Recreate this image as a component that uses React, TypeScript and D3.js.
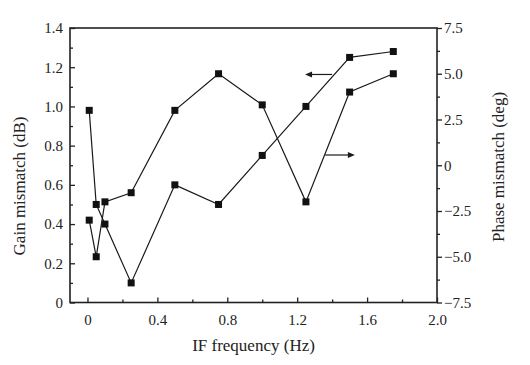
import React, { useEffect, useRef } from 'react';
import * as d3 from 'd3';

// values
const freq = [0.01, 0.05, 0.1, 0.25, 0.5, 0.75, 1.0, 1.25, 1.5, 1.75];
const gainMismatch = [0.98, 0.5, 0.4, 0.1, 0.6, 0.5, 0.75, 1.0, 1.25, 1.28];
const phaseMismatch = [-3.0, -5.0, -2.0, -1.5, 3.0, 5.0, 3.3, -2.0, 4.0, 5.0];

const xTicks = [0, 0.4, 0.8, 1.2, 1.6, 2.0];
const xMinor = [0.2, 0.6, 1.0, 1.4, 1.8];
const gainTicks = [0, 0.2, 0.4, 0.6, 0.8, 1.0, 1.2, 1.4];
const gainMinor = [0.1, 0.3, 0.5, 0.7, 0.9, 1.1, 1.3];
const phaseTicks = [-7.5, -5.0, -2.5, 0, 2.5, 5.0, 7.5];
const phaseMinor = [-6.25, -3.75, -1.25, 1.25, 3.75, 6.25];

// arrows pointing to each series' axis: [x0, x1, y] in data units
const gainArrow = [1.4, 1.245, 1.163];
const phaseArrow = [1.36, 1.53, 0.56];

const FONT = "'Liberation Serif', 'Times New Roman', serif";
const W = 530;
const H = 365;

const App: React.FC = () => {
  const svgRef = useRef<SVGSVGElement>(null);

  useEffect(() => {
    if (!svgRef.current) return;
    const margin = { top: 28, right: 93, bottom: 62.5, left: 70 };
    const innerW = W - margin.left - margin.right;
    const innerH = H - margin.top - margin.bottom;

    const svg = d3.select(svgRef.current);
    svg.selectAll('*').remove();
    const g = svg.append('g').attr('transform', `translate(${margin.left},${margin.top})`);

    const x = d3.scaleLinear().domain([-0.1, 2.0]).range([0, innerW]);
    const yGain = d3.scaleLinear().domain([0, 1.4]).range([innerH, 0]);
    const yPhase = d3.scaleLinear().domain([-7.5, 7.5]).range([innerH, 0]);

    const fmt = (d: number) => (d === 0 ? '0' : d3.format('.1f')(d).replace('-', '\u2212'));

    // x axis, ticks inward
    const xAx = g.append('g').attr('transform', `translate(0,${innerH})`);
    xAx.call(d3.axisBottom(x).tickValues(xTicks).tickSize(-5).tickSizeOuter(0).tickPadding(12).tickFormat((d) => fmt(+d)));
    xAx.append('g').call(d3.axisBottom(x).tickValues(xMinor).tickSize(-3).tickSizeOuter(0).tickFormat(() => ''));

    // left axis, ticks inward
    const yl = g.append('g');
    yl.call(d3.axisLeft(yGain).tickValues(gainTicks).tickSize(-5).tickSizeOuter(0).tickPadding(7).tickFormat((d) => fmt(+d)));
    yl.append('g').call(d3.axisLeft(yGain).tickValues(gainMinor).tickSize(-3).tickSizeOuter(0).tickFormat(() => ''));

    // right axis, ticks outward
    const yr = g.append('g').attr('transform', `translate(${innerW},0)`);
    yr.call(d3.axisRight(yPhase).tickValues(phaseTicks).tickSize(5).tickSizeOuter(0).tickPadding(2).tickFormat((d) => fmt(+d)));
    yr.append('g').call(d3.axisRight(yPhase).tickValues(phaseMinor).tickSize(3).tickSizeOuter(0).tickFormat(() => ''));

    g.selectAll('.domain').remove();
    g.selectAll('.tick line').attr('stroke', '#222').attr('stroke-width', 1.3);
    g.selectAll('.tick text')
      .attr('fill', '#222')
      .style('font-family', FONT)
      .style('font-size', '15px');

    // frame
    g.append('rect')
      .attr('width', innerW)
      .attr('height', innerH)
      .attr('fill', 'none')
      .attr('stroke', '#222')
      .attr('stroke-width', 1.6);

    const drawSeries = (vals: number[], y: d3.ScaleLinear<number, number>) => {
      const line = d3
        .line<number>()
        .x((_, i) => x(freq[i]))
        .y((d) => y(d));
      g.append('path').attr('d', line(vals)).attr('fill', 'none').attr('stroke', '#1a1a1a').attr('stroke-width', 1.2);
      g.selectAll(null)
        .data(vals)
        .enter()
        .append('rect')
        .attr('x', (_, i) => x(freq[i]) - 3.5)
        .attr('y', (d) => y(d) - 3.5)
        .attr('width', 7)
        .attr('height', 7)
        .attr('fill', '#111');
    };
    drawSeries(gainMismatch, yGain);
    drawSeries(phaseMismatch, yPhase);

    // arrows
    const drawArrow = (x0: number, x1: number, yy: number) => {
      const dir = x1 > x0 ? 1 : -1;
      g.append('line')
        .attr('x1', x0).attr('x2', x1 - dir * 5)
        .attr('y1', yy).attr('y2', yy)
        .attr('stroke', '#1a1a1a').attr('stroke-width', 1.2);
      g.append('path')
        .attr('d', `M${x1},${yy}L${x1 - dir * 7},${yy - 3}L${x1 - dir * 7},${yy + 3}Z`)
        .attr('fill', '#1a1a1a');
    };
    drawArrow(x(gainArrow[0]), x(gainArrow[1]), yGain(gainArrow[2]));
    drawArrow(x(phaseArrow[0]), x(phaseArrow[1]), yPhase(phaseArrow[2]));

    // axis titles
    svg.append('text')
      .attr('x', margin.left + innerW / 2)
      .attr('y', 351)
      .attr('text-anchor', 'middle')
      .attr('fill', '#222')
      .style('font-family', FONT)
      .style('font-size', '17px')
      .text('IF frequency (Hz)');

    svg.append('text')
      .attr('transform', 'translate(25,186) rotate(-90)')
      .attr('text-anchor', 'middle')
      .attr('fill', '#222')
      .style('font-family', FONT)
      .style('font-size', '17px')
      .text('Gain mismatch (dB)');

    svg.append('text')
      .attr('transform', 'translate(504,167) rotate(-90)')
      .attr('text-anchor', 'middle')
      .attr('fill', '#222')
      .style('font-family', FONT)
      .style('font-size', '17px')
      .text('Phase mismatch (deg)');
  }, []);

  return (
    <svg
      ref={svgRef}
      width={W}
      height={H}
      style={{ position: 'absolute', left: 0, top: 0, background: '#fff' }}
    />
  );
};

export default App;
